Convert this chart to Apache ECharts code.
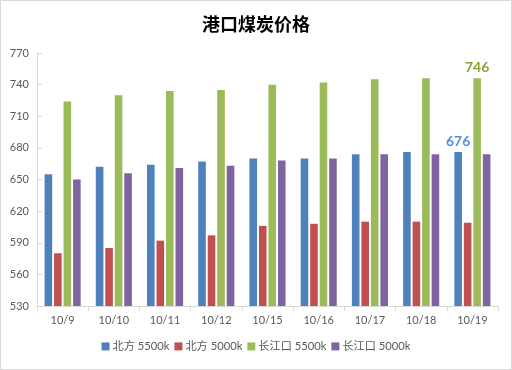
<!DOCTYPE html>
<html><head><meta charset="utf-8">
<script src="https://cdn.jsdelivr.net/npm/echarts@6/dist/echarts.min.js"></script>
<style>html,body{margin:0;padding:0;background:#fff}#c{width:512px;height:370px}</style>
</head><body><div id="c"></div>
<script>
const categories = ['10/9','10/10','10/11','10/12','10/15','10/16','10/17','10/18','10/19'];
const seriesNames = ['北方 5500k','北方 5000k','长江口 5500k','长江口 5000k'];
const north5500 = [655, 662, 664, 667, 670, 670, 674, 676, 676];
const north5000 = [580, 585, 592, 597, 606, 608, 610, 610, 609];
const cj5500 = [724, 730, 734, 735, 740, 742, 745, 746, 746];
const cj5000 = [650, 656, 661, 663, 668, 670, 674, 674, 674];
const colors = ['#4f81bd','#c0504d','#9bbb59','#8064a2'];
const labelColors = ['#558ed5', null, '#86a536', null];
const FONT = 'Lato, "Noto Sans CJK SC", sans-serif';

const allData = [north5500, north5000, cj5500, cj5000];
const chart = echarts.init(document.getElementById('c'), null, {renderer:'canvas'});
chart.setOption({
  animation:false,
  textStyle:{fontFamily:FONT},
  title:{text:'港口煤炭价格',left:'center',top:10,textStyle:{fontSize:18,fontWeight:'bold',color:'#000',fontFamily:'"Noto Sans CJK SC", sans-serif'}},
  graphic:[{type:'rect',shape:{x:0.5,y:0.5,width:511,height:369},style:{fill:'none',stroke:'#d9d9d9',lineWidth:1},silent:true}],
  grid:{left:37,right:14,top:53,bottom:64},
  legend:{bottom:13,left:'center',itemWidth:8,itemHeight:8,itemGap:5,icon:'rect',
    textStyle:{fontSize:11.2,color:'#595959',fontFamily:FONT,padding:[0,0,0,-2]},data:seriesNames},
  xAxis:{type:'category',data:categories,
    axisLine:{lineStyle:{color:'#d9d9d9'}},
    axisTick:{show:true,length:5,lineStyle:{color:'#d9d9d9'}},
    axisLabel:{color:'#595959',fontSize:11,margin:9}},
  yAxis:{type:'value',min:530,max:770,interval:30,
    axisLine:{show:true,lineStyle:{color:'#d9d9d9'}},
    axisTick:{show:true,inside:true,length:5,lineStyle:{color:'#d9d9d9'}},
    splitLine:{show:false},
    axisLabel:{color:'#595959',fontSize:11,margin:8}},
  series: allData.map((d,i)=>({
    name:seriesNames[i],type:'bar',barWidth:7.6,barGap:'25%',
    itemStyle:{color:colors[i]},
    data:d.map((v,j)=>{
      if(labelColors[i] && j===d.length-1){
        return {value:v,label:{show:true,position:'top',distance:4,color:labelColors[i],fontSize:14,fontWeight:'bold',fontFamily:FONT}};
      }
      return v;
    })
  }))
});
</script></body></html>
